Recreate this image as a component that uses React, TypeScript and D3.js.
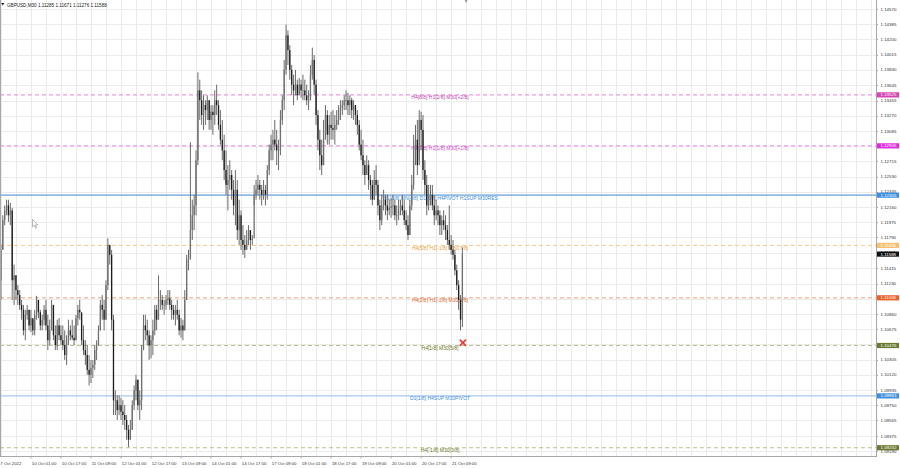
import React from "react";
import * as d3 from "d3";

// ---------- DATA ----------
const symbolTitle = "GBPUSD,M30";
const lastBarOHLC = [1.11285, 1.11671, 1.11276, 1.11588];
const firstOpen = 1.1127;

const highs = [
  1.1170, 1.1206, 1.1218, 1.1225, 1.1225, 1.1221, 1.1215, 1.1146, 1.1133, 1.1121,
  1.1115, 1.1103, 1.1097, 1.1091, 1.1097, 1.1091, 1.1091, 1.1079, 1.1091, 1.1108,
  1.1103, 1.1091, 1.1085, 1.1097, 1.1103, 1.1085, 1.1079, 1.1103, 1.1097, 1.1072,
  1.1079, 1.1081, 1.1072, 1.1072, 1.1066, 1.1060, 1.1079, 1.1072, 1.1079, 1.1072,
  1.1085, 1.1097, 1.1103, 1.1085, 1.1072, 1.1054, 1.1048, 1.1036, 1.1030, 1.1030,
  1.1048, 1.1054, 1.1072, 1.1103, 1.1109, 1.1103, 1.1127, 1.1178, 1.1170, 1.1164,
  1.1085, 1.0993, 1.0987, 1.0987, 1.0984, 1.0981, 1.0975, 1.0963, 1.0951, 1.0957,
  1.0981, 1.0999, 1.1012, 1.1006, 1.0993, 1.1048, 1.1085, 1.1085, 1.1079, 1.1066,
  1.1060, 1.1079, 1.1097, 1.1097, 1.1133, 1.1115, 1.1109, 1.1103, 1.1109, 1.1115,
  1.1115, 1.1103, 1.1097, 1.1097, 1.1103, 1.1091, 1.1081, 1.1079, 1.1115, 1.1158,
  1.1164, 1.1295, 1.1225, 1.1231, 1.1285, 1.1380, 1.1371, 1.1358, 1.1352, 1.1346,
  1.1352, 1.1346, 1.1340, 1.1340, 1.1358, 1.1365, 1.1346, 1.1334, 1.1322, 1.1304,
  1.1285, 1.1267, 1.1273, 1.1261, 1.1249, 1.1261, 1.1249, 1.1225, 1.1212, 1.1194,
  1.1182, 1.1188, 1.1194, 1.1188, 1.1182, 1.1243, 1.1249, 1.1255, 1.1249, 1.1243,
  1.1249, 1.1243, 1.1267, 1.1292, 1.1304, 1.1310, 1.1322, 1.1310, 1.1298, 1.1334,
  1.1352, 1.1395, 1.1438, 1.1431, 1.1413, 1.1389, 1.1377, 1.1383, 1.1371, 1.1373,
  1.1371, 1.1377, 1.1371, 1.1365, 1.1358, 1.1389, 1.1410, 1.1401, 1.1371, 1.1334,
  1.1310, 1.1298, 1.1322, 1.1340, 1.1334, 1.1328, 1.1332, 1.1334, 1.1328, 1.1334,
  1.1340, 1.1346, 1.1346, 1.1352, 1.1358, 1.1355, 1.1352, 1.1349, 1.1346, 1.1340,
  1.1334, 1.1322, 1.1310, 1.1298, 1.1273, 1.1279, 1.1273, 1.1255, 1.1249, 1.1261,
  1.1267, 1.1249, 1.1225, 1.1231, 1.1237, 1.1231, 1.1231, 1.1225, 1.1227, 1.1231,
  1.1225, 1.1218, 1.1225, 1.1225, 1.1231, 1.1225, 1.1212, 1.1206, 1.1225, 1.1255,
  1.1304, 1.1316, 1.1322, 1.1334, 1.1332, 1.1328, 1.1273, 1.1255, 1.1243, 1.1243,
  1.1243, 1.1231, 1.1225, 1.1218, 1.1212, 1.1206, 1.1212, 1.1206, 1.1194, 1.1218,
  1.1182, 1.1176, 1.1164, 1.1146, 1.1127, 1.1109, 1.1167,
];
const lows = [
  1.1103, 1.1164, 1.1194, 1.1206, 1.1198, 1.1194, 1.1103, 1.1097, 1.1103, 1.1097,
  1.1091, 1.1079, 1.1060, 1.1054, 1.1079, 1.1066, 1.1064, 1.1060, 1.1060, 1.1079,
  1.1081, 1.1066, 1.1066, 1.1072, 1.1066, 1.1042, 1.1048, 1.1066, 1.1054, 1.1042,
  1.1042, 1.1054, 1.1048, 1.1042, 1.1030, 1.1024, 1.1048, 1.1054, 1.1054, 1.1048,
  1.1054, 1.1072, 1.1079, 1.1048, 1.1036, 1.1024, 1.1012, 1.0999, 1.1002, 1.1008,
  1.1018, 1.1030, 1.1048, 1.1066, 1.1079, 1.1066, 1.1079, 1.1115, 1.1146, 1.1066,
  1.0963, 1.0963, 1.0957, 1.0963, 1.0957, 1.0951, 1.0945, 1.0933, 1.0924, 1.0933,
  1.0945, 1.0969, 1.0981, 1.0969, 1.0957, 1.0969, 1.1042, 1.1054, 1.1048, 1.1030,
  1.1032, 1.1036, 1.1060, 1.1066, 1.1079, 1.1091, 1.1091, 1.1085, 1.1091, 1.1097,
  1.1091, 1.1079, 1.1079, 1.1072, 1.1079, 1.1060, 1.1057, 1.1054, 1.1066, 1.1103,
  1.1139, 1.1152, 1.1176, 1.1188, 1.1206, 1.1267, 1.1322, 1.1316, 1.1310, 1.1316,
  1.1322, 1.1310, 1.1310, 1.1304, 1.1316, 1.1328, 1.1310, 1.1292, 1.1273, 1.1249,
  1.1231, 1.1212, 1.1237, 1.1225, 1.1206, 1.1194, 1.1176, 1.1170, 1.1164, 1.1158,
  1.1154, 1.1164, 1.1170, 1.1164, 1.1170, 1.1218, 1.1225, 1.1231, 1.1225, 1.1218,
  1.1225, 1.1218, 1.1225, 1.1255, 1.1273, 1.1273, 1.1285, 1.1267, 1.1261, 1.1279,
  1.1316, 1.1334, 1.1377, 1.1389, 1.1371, 1.1352, 1.1340, 1.1352, 1.1346, 1.1352,
  1.1349, 1.1346, 1.1346, 1.1340, 1.1334, 1.1346, 1.1371, 1.1352, 1.1316, 1.1285,
  1.1261, 1.1255, 1.1267, 1.1298, 1.1292, 1.1292, 1.1298, 1.1298, 1.1292, 1.1310,
  1.1316, 1.1322, 1.1328, 1.1334, 1.1334, 1.1328, 1.1328, 1.1324, 1.1322, 1.1316,
  1.1304, 1.1285, 1.1273, 1.1255, 1.1243, 1.1255, 1.1237, 1.1225, 1.1218, 1.1225,
  1.1231, 1.1206, 1.1188, 1.1194, 1.1212, 1.1206, 1.1200, 1.1206, 1.1203, 1.1206,
  1.1200, 1.1194, 1.1200, 1.1206, 1.1206, 1.1194, 1.1188, 1.1176, 1.1182, 1.1212,
  1.1237, 1.1267, 1.1255, 1.1273, 1.1285, 1.1249, 1.1231, 1.1206, 1.1212, 1.1218,
  1.1212, 1.1194, 1.1200, 1.1194, 1.1182, 1.1182, 1.1188, 1.1176, 1.1170, 1.1164,
  1.1158, 1.1152, 1.1133, 1.1115, 1.1091, 1.1066, 1.1070,
];
const closes = [
  1.1164, 1.1200, 1.1212, 1.1218, 1.1206, 1.1212, 1.1127, 1.1133, 1.1115, 1.1109,
  1.1097, 1.1091, 1.1066, 1.1085, 1.1091, 1.1072, 1.1081, 1.1066, 1.1085, 1.1103,
  1.1088, 1.1072, 1.1079, 1.1091, 1.1072, 1.1054, 1.1066, 1.1097, 1.1060, 1.1048,
  1.1072, 1.1060, 1.1054, 1.1048, 1.1036, 1.1054, 1.1066, 1.1060, 1.1057, 1.1054,
  1.1081, 1.1091, 1.1088, 1.1054, 1.1042, 1.1036, 1.1018, 1.1012, 1.1020, 1.1024,
  1.1042, 1.1048, 1.1066, 1.1097, 1.1091, 1.1079, 1.1121, 1.1170, 1.1158, 1.1079,
  1.0981, 1.0981, 1.0969, 1.0975, 1.0967, 1.0963, 1.0957, 1.0945, 1.0933, 1.0945,
  1.0975, 1.0993, 1.1006, 1.0975, 1.0981, 1.1042, 1.1072, 1.1066, 1.1060, 1.1048,
  1.1054, 1.1066, 1.1091, 1.1079, 1.1103, 1.1103, 1.1097, 1.1097, 1.1103, 1.1105,
  1.1097, 1.1091, 1.1085, 1.1091, 1.1085, 1.1066, 1.1072, 1.1066, 1.1103, 1.1152,
  1.1154, 1.1188, 1.1206, 1.1218, 1.1273, 1.1358, 1.1346, 1.1328, 1.1340, 1.1334,
  1.1346, 1.1322, 1.1332, 1.1328, 1.1346, 1.1340, 1.1316, 1.1298, 1.1285, 1.1261,
  1.1243, 1.1249, 1.1255, 1.1237, 1.1218, 1.1237, 1.1188, 1.1206, 1.1176, 1.1170,
  1.1164, 1.1176, 1.1188, 1.1176, 1.1178, 1.1231, 1.1237, 1.1243, 1.1237, 1.1231,
  1.1237, 1.1231, 1.1261, 1.1285, 1.1292, 1.1298, 1.1292, 1.1285, 1.1285, 1.1322,
  1.1346, 1.1383, 1.1425, 1.1407, 1.1383, 1.1365, 1.1358, 1.1365, 1.1352, 1.1365,
  1.1358, 1.1358, 1.1352, 1.1346, 1.1346, 1.1377, 1.1395, 1.1365, 1.1328, 1.1298,
  1.1279, 1.1267, 1.1310, 1.1328, 1.1304, 1.1316, 1.1312, 1.1310, 1.1316, 1.1322,
  1.1334, 1.1337, 1.1340, 1.1346, 1.1346, 1.1340, 1.1346, 1.1334, 1.1340, 1.1328,
  1.1316, 1.1292, 1.1279, 1.1267, 1.1255, 1.1267, 1.1249, 1.1243, 1.1225, 1.1249,
  1.1243, 1.1218, 1.1200, 1.1218, 1.1225, 1.1218, 1.1212, 1.1215, 1.1217, 1.1218,
  1.1206, 1.1206, 1.1212, 1.1218, 1.1212, 1.1200, 1.1194, 1.1182, 1.1218, 1.1243,
  1.1285, 1.1298, 1.1267, 1.1322, 1.1310, 1.1261, 1.1243, 1.1218, 1.1231, 1.1231,
  1.1218, 1.1206, 1.1212, 1.1206, 1.1194, 1.1200, 1.1194, 1.1188, 1.1176, 1.1170,
  1.1164, 1.1158, 1.1139, 1.1121, 1.1103, 1.1079, 1.1159,
];

const priceTicks = [
  1.1457, 1.14385, 1.142, 1.14015, 1.1383, 1.13645, 1.13455, 1.1327, 1.13085, 1.129,
  1.12715, 1.1253, 1.12345, 1.1216, 1.11975, 1.1179, 1.11605, 1.11415, 1.1123, 1.11045,
  1.1086, 1.10675, 1.1049, 1.10305, 1.1012, 1.09935, 1.0975, 1.09565, 1.09375, 1.0919,
];

const timeLabels = [
  "7 Oct 2022", "10 Oct 01:00", "10 Oct 17:00", "11 Oct 09:00", "12 Oct 01:00",
  "12 Oct 17:00", "13 Oct 09:00", "14 Oct 01:00", "14 Oct 17:00", "17 Oct 09:00",
  "18 Oct 01:00", "18 Oct 17:00", "19 Oct 09:00", "20 Oct 01:00", "20 Oct 17:00",
  "21 Oct 09:00",
];

const levelPrices = [1.13525, 1.12905, 1.12305, 1.11694, 1.11056, 1.10476, 1.09863, 1.09232];
const levelTexts = [
  "H4[8/8] H1[2/8] M30[+2/8]",
  "H4[7/8] H1[1/8] M30[+1/8]",
  "W1[3/8] MN[4/8] D1[5/8] H4PIVOT H1SUP M30RES",
  "H4[5/8] H1[-1/8] M30[7/8]",
  "H4[2/8] H1[-2/8] M30[6/8]",
  "H4[1/8] M30[5/8]",
  "D1[1/8] H4SUP M30PIVOT",
  "H4[-1/8] M30[3/8]",
];
const stopMarkPrice = 1.1051;

// ---------- STYLES ----------
const levelLineColors = ["#e77fd6", "#ea82ea", "#8fbbe6", "#f2c88a", "#eaa478", "#bcc08e", "#a9c8ea", "#bcc08e"];
const levelTextColors = ["#c044b0", "#cc3fcc", "#3d8fdc", "#e8a040", "#e06a30", "#6d7a2a", "#3d8fdc", "#6d7a2a"];
const levelBoxColors = ["#d543b4", "#e02ce0", "#3d8fe0", "#f5c070", "#e8622a", "#6b7a30", "#3d8fe0", "#6b7a30"];
const levelDashed = [true, true, false, true, true, true, false, true];
const levelWidths = [1, 1, 1.6, 1, 1, 1, 1.3, 1];

const FONT = "'Liberation Sans', Arial, sans-serif";

export default function App() {
  const plotR = 876;
  const plotB = 456;
  const N = closes.length;
  const opens = closes.map((c, i) => (i === 0 ? firstOpen : closes[i - 1]));

  const x = d3.scaleLinear().domain([-0.5, 466.5]).range([0, plotR]);
  const y = d3.scaleLinear().domain([1.0919, 1.1457]).range([451.2, 9]);

  // hourly bar times, skipping weekends
  const times: Date[] = [];
  let t = Date.UTC(2022, 9, 7, 9, 0);
  while (times.length < N) {
    const d = new Date(t);
    const wd = d.getUTCDay();
    if (wd !== 0 && wd !== 6) times.push(d);
    t += 3600e3;
  }
  const fmtHour = d3.utcFormat("%-d %b %H:%M");
  const fmtYear = d3.utcFormat("%-d %b %Y");
  const tickIdx = timeLabels.map((lab) =>
    times.findIndex((d) => fmtHour(d) === lab || fmtYear(d) === lab)
  );

  const gridBars = d3.range(0, 467, 8);
  const barW = 1.3;

  return (
    <svg
      width={900}
      height={468}
      style={{ position: "absolute", left: 0, top: 0, background: "#fff" }}
      fontFamily={FONT}
    >
      <rect x={0} y={0} width={900} height={468} fill="#fff" />
      <defs>
        <clipPath id="plot">
          <rect x={0} y={0} width={plotR} height={plotB} />
        </clipPath>
      </defs>
      {/* grid */}
      <g stroke="#ebebeb" strokeWidth={1}>
        {gridBars.map((b) => (
          <line key={"gv" + b} x1={Math.round(x(b)) + 0.5} x2={Math.round(x(b)) + 0.5} y1={0} y2={plotB} />
        ))}
        {priceTicks.map((p) => (
          <line key={"gh" + p} x1={0} x2={plotR} y1={Math.round(y(p)) + 0.5} y2={Math.round(y(p)) + 0.5} />
        ))}
      </g>
      {/* level lines */}
      <g clipPath="url(#plot)">
        {levelPrices.map((p, i) => (
          <line
            key={"lv" + i}
            x1={0}
            x2={plotR}
            y1={y(p)}
            y2={y(p)}
            stroke={levelLineColors[i]}
            strokeWidth={levelWidths[i]}
            strokeDasharray={levelDashed[i] ? "4,3" : undefined}
          />
        ))}
      </g>
      {/* level labels (behind candles) */}
      {levelPrices.map((p, i) => (
        <text
          key={"lt" + i}
          x={440}
          y={y(p) + 4.6}
          fontSize={5}
          textAnchor="middle"
          fill={levelTextColors[i]}
        >
          {levelTexts[i]}
        </text>
      ))}
      {/* candles */}
      <g clipPath="url(#plot)">
        {closes.map((c, i) => {
          const o = opens[i];
          const bull = c >= o;
          const cx = x(i);
          const yTop = y(Math.max(o, c));
          const yBot = y(Math.min(o, c));
          return (
            <g key={"c" + i}>
              <line x1={cx} x2={cx} y1={y(highs[i])} y2={y(lows[i])} stroke="#6a6a6a" strokeWidth={1} />
              <rect
                x={cx - barW / 2}
                y={yTop}
                width={barW}
                height={Math.max(0.8, yBot - yTop)}
                fill={bull ? "#707070" : "#1c1c1c"}
              />
            </g>
          );
        })}
      </g>
      {/* stop mark */}
      <g transform={`translate(${x(N - 1) + 0.5},${y(stopMarkPrice)})`} stroke="#e0413a" strokeWidth={1.8} strokeLinecap="round">
        <line x1={-2.6} y1={-2.6} x2={2.6} y2={2.6} />
        <line x1={-2.6} y1={2.6} x2={2.6} y2={-2.6} />
      </g>
      {/* chart shift marker */}
      <path d={`M${x(N + 1) - 1.5},0 L${x(N + 1) + 1.5},0 L${x(N + 1)},3 Z`} fill="#9a9a9a" />
      {/* mouse cursor */}
      <path
        d="M32.5,219.5 L32.5,227 L34.3,225.3 L35.6,228.2 L36.7,227.7 L35.4,224.9 L37.8,224.9 Z"
        fill="#fff"
        stroke="#8a8a8a"
        strokeWidth={0.6}
      />
      {/* frame */}
      <line x1={0.5} x2={0.5} y1={0} y2={plotB} stroke="#a8a8a8" />
      <line x1={0} x2={plotR} y1={plotB + 0.5} y2={plotB + 0.5} stroke="#a8a8a8" />
      <line x1={plotR + 0.5} x2={plotR + 0.5} y1={0} y2={plotB + 1} stroke="#a8a8a8" />
      {/* price axis */}
      {priceTicks.map((p) => (
        <g key={"pt" + p}>
          <line x1={plotR} x2={plotR + 2} y1={Math.round(y(p)) + 0.5} y2={Math.round(y(p)) + 0.5} stroke="#a8a8a8" />
          <text x={880.5} y={y(p) + 1.6} fontSize={4.4} fill="#333">
            {p.toFixed(5)}
          </text>
        </g>
      ))}
      {levelPrices.map((p, i) => (
        <g key={"pb" + i}>
          <rect x={877} y={y(p) - 2.6} width={22} height={5.2} fill={levelBoxColors[i]} />
          <text x={880.5} y={y(p) + 1.6} fontSize={4.4} fill="#fff">
            {p.toFixed(5)}
          </text>
        </g>
      ))}
      <g>
        <rect x={877} y={y(lastBarOHLC[3]) - 2.6} width={22} height={5.2} fill="#111" />
        <text x={880.5} y={y(lastBarOHLC[3]) + 1.6} fontSize={4.4} fill="#fff">
          {lastBarOHLC[3].toFixed(5)}
        </text>
      </g>
      {/* time axis */}
      {timeLabels.map((lab, k) => {
        const i = tickIdx[k];
        const tx = k === 0 ? 0 : x(i);
        return (
          <g key={"tl" + k}>
            {k > 0 && <line x1={tx} x2={tx} y1={plotB} y2={plotB + 2.5} stroke="#a8a8a8" />}
            <text x={tx + (k === 0 ? 0.3 : 0.8)} y={465} fontSize={4.3} fill="#333">
              {lab}
            </text>
          </g>
        );
      })}
      {/* title */}
      <path d="M1.2,3 L4.4,3 L2.8,5.6 Z" fill="#222" />
      <text x={7} y={6.8} fontSize={4.6} fill="#222">
        {`${symbolTitle}  ${lastBarOHLC.map((v) => v.toFixed(5)).join(" ")}`}
      </text>
    </svg>
  );
}
